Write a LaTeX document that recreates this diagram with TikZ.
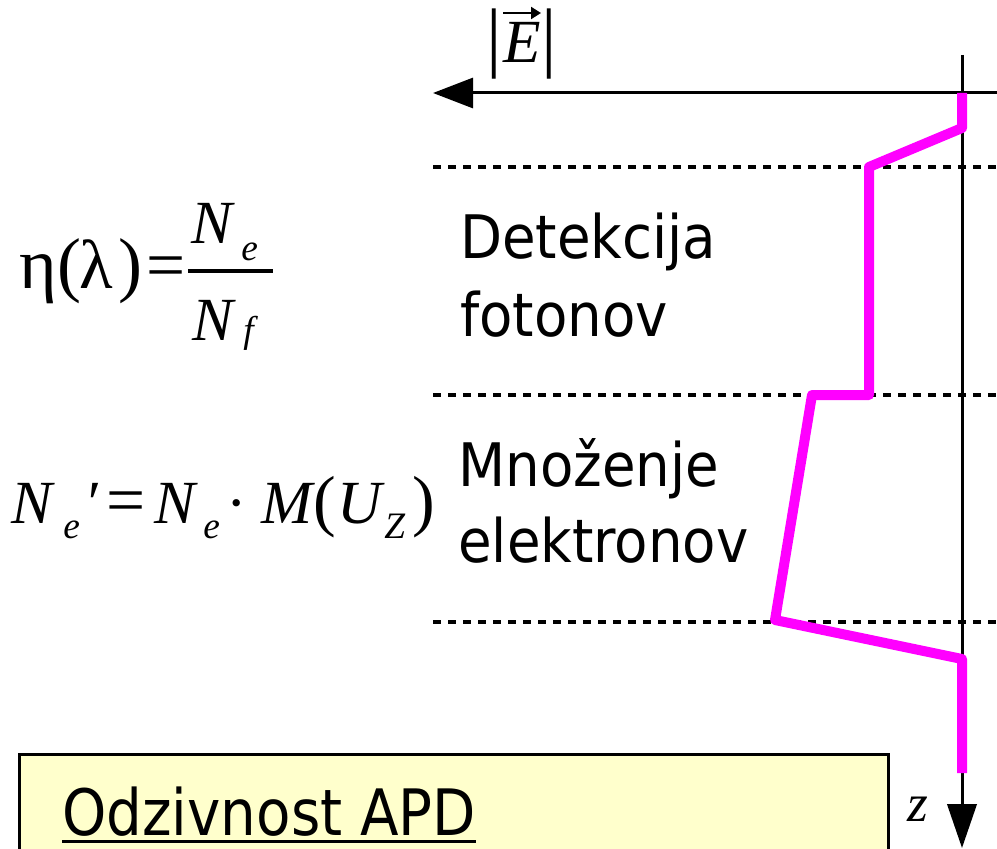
\documentclass[tikz,border=0pt]{standalone}
\usepackage{fontspec}
\usetikzlibrary{arrows.meta}
\newfontfamily\serf{Liberation Serif}
\newfontfamily\labelsans[FakeStretch=0.91]{DejaVu Sans}
\newfontfamily\titlesans[FakeStretch=0.88]{DejaVu Sans}
\definecolor{boxyellow}{HTML}{FFFFCC}
\definecolor{fieldmag}{HTML}{FF00FF}
\tikzset{
  px/.style={x=0.75pt,y=-0.75pt},
  fbig/.style={inner sep=0pt,anchor=base west,font=\serf\fontsize{46}{54}\selectfont},
  fit/.style={inner sep=0pt,anchor=base west,font=\serf\itshape\fontsize{46}{54}\selectfont},
  fsub/.style={inner sep=0pt,anchor=base west,font=\serf\itshape\fontsize{28}{34}\selectfont},
  lbl/.style={inner sep=0pt,anchor=base west,font=\labelsans\fontsize{45}{54}\selectfont},
  axisline/.style={line width=2.25pt},
  sepline/.style={line width=3pt,dash pattern=on 6pt off 5.25pt},
  fieldline/.style={line width=7.5pt,draw=fieldmag,line join=round}
}
\begin{document}
\begin{tikzpicture}[px]
\useasboundingbox (0,0) rectangle (997,849);
\clip (0,0) rectangle (997,849);

% yellow title box (runs off the bottom edge)
\node[draw,line width=2.25pt,fill=boxyellow,minimum width=869*0.75pt,minimum height=120*0.75pt,anchor=north west,inner sep=0pt] (titlebox) at (18,753) {};
\node[lbl,font=\titlesans\fontsize{48}{56}\selectfont] (odz) at (62,835) {Odzivnost APD};
\draw[line width=2.25pt] ([yshift=-4.5pt]odz.base west) -- ([yshift=-4.5pt]odz.base east);

% region boundaries
\coordinate (d1l) at (433,167); \coordinate (d1r) at (997,167);
\coordinate (d2l) at (433,395); \coordinate (d2r) at (997,395);
\coordinate (d3l) at (433,622); \coordinate (d3r) at (997,622);
\draw[sepline] (d1l) -- (d1r);
\draw[sepline] (d2l) -- (d2r);
\draw[sepline] (d3l) -- (d3r);

% axes
\coordinate (ztop) at (962,55);
\coordinate (zend) at (962,848);
\coordinate (eright) at (997,93);
\coordinate (eend) at (433,93);
\draw[axisline,-{Triangle[length=33pt,width=22pt]}] (ztop) -- (zend);
\draw[axisline,-{Triangle[length=30pt,width=22.5pt]}] (eright) -- (eend);

% field magnitude profile
\coordinate (p0) at (962,93);
\coordinate (p1) at (962,128);
\coordinate (p2) at (869,167);
\coordinate (p3) at (869,395);
\coordinate (p4) at (812,395);
\coordinate (p5) at (775,620);
\coordinate (p6) at (962,659);
\coordinate (p7) at (962,773);
\draw[fieldline] (p0) -- (p1) -- (p2) -- (p3) -- (p4) -- (p5) -- (p6) -- (p7);

% axis labels
\node[inner sep=0pt,anchor=base west,font=\serf\itshape\fontsize{40}{48}\selectfont] (zlbl) at (907,821) {z};
\node[fbig,font=\serf\fontsize{58}{64}\selectfont] (ebl) at (486,63) {|};
\node[fit] (ee) at (503,63) {E};
\node[fbig,font=\serf\fontsize{58}{64}\selectfont] (ebr) at (541,63) {|};
\coordinate (evl) at (503,13); \coordinate (evr) at (541,13);
\draw[line width=1.6pt,-{Triangle[length=7.5pt,width=9pt]}] (evl) -- (evr);

% region labels
\node[lbl] (det1) at (460,258) {Detekcija};
\node[lbl] (det2) at (460,336) {fotonov};
\node[lbl] (mno1) at (458,486) {Množenje};
\node[lbl] (mno2) at (458,562) {elektronov};

% quantum efficiency
\node[fbig,font=\serf\fontsize{54}{60}\selectfont] (qeta) at (19,288) {η};
\node[fbig,font=\serf\fontsize{54}{60}\selectfont] (qpl) at (57,288) {(};
\node[fbig,font=\serf\fontsize{52}{60}\selectfont] (qlam) at (79,288) {λ};
\node[fbig,font=\serf\fontsize{54}{60}\selectfont] (qpr) at (118,288) {)};
\node[fbig,font=\serf\fontsize{52}{60}\selectfont] (qeq) at (146,288) {=};
\coordinate (barl) at (188,271); \coordinate (barr) at (273,271);
\draw[line width=2.4pt] (barl) -- (barr);
\node[fit] (qn) at (191,243) {N};
\node[fsub] (qns) at (241,260) {e};
\node[fit] (qd) at (192,340) {N};
\node[fsub] (qds) at (243,342) {f};

% multiplication
\node[fit] (m1) at (11,523) {N};
\node[fsub] (m1s) at (63,538) {e};
\node[fit] (m1p) at (84,523) {\char"2032};
\node[fbig,font=\serf\fontsize{52}{60}\selectfont] (meq) at (106,523) {=};
\node[fit] (m2) at (154,523) {N};
\node[fsub] (m2s) at (203,538) {e};
\node[fbig] (mdot) at (226,523) {·};
\node[fit] (mm) at (261,523) {M};
\node[fbig,font=\serf\fontsize{51}{60}\selectfont] (mpl) at (313,523) {(};
\node[fit] (mu) at (337,523) {U};
\node[fsub] (mus) at (384,538) {Z};
\node[fbig,font=\serf\fontsize{51}{60}\selectfont] (mpr) at (412,523) {)};
\end{tikzpicture}
\end{document}
